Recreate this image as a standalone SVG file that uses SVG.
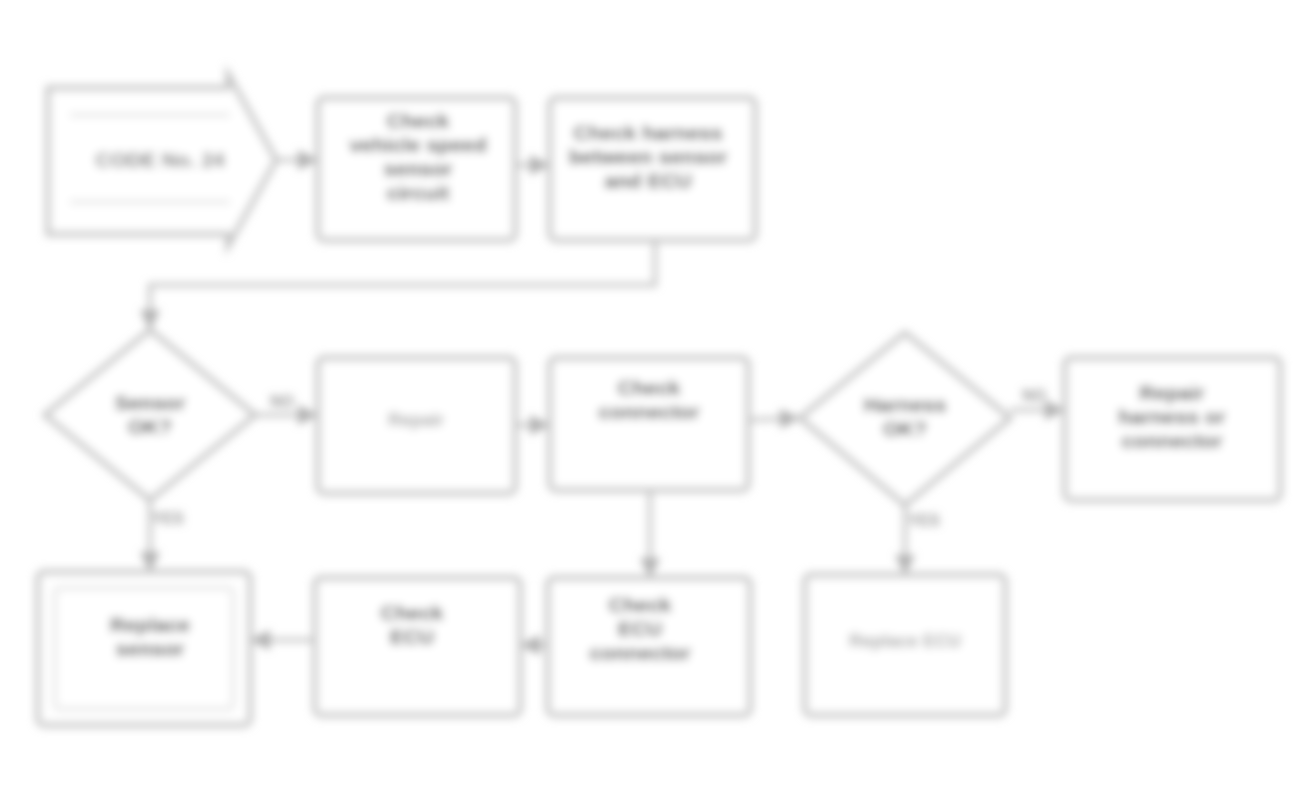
<svg xmlns="http://www.w3.org/2000/svg" width="1312" height="797" viewBox="0 0 1312 797">
<defs>
  <filter id="soft" x="-5%" y="-5%" width="110%" height="110%"><feGaussianBlur stdDeviation="4.5"/></filter>
  <marker id="arr" viewBox="0 0 10 10" refX="9" refY="5" markerWidth="5" markerHeight="5" orient="auto"><path d="M0,0 L10,5 L0,10 z" fill="#b0b0b0"/></marker>
</defs>
<style>
  .box{fill:#ffffff;stroke:#c0c0c0;stroke-width:5}
  .inner{fill:none;stroke:#dcdcdc;stroke-width:3}
  .t{font-family:"Liberation Sans",Arial,sans-serif;font-size:21px;font-weight:bold;fill:#262626;text-anchor:middle}
  .tl{font-family:"Liberation Sans",Arial,sans-serif;font-size:18px;font-weight:bold;fill:#a0a0a0;text-anchor:middle}
  .lab{font-family:"Liberation Sans",Arial,sans-serif;font-size:16px;font-weight:bold;fill:#9a9a9a;text-anchor:middle}
  .c{fill:none;stroke:#c0c0c0;stroke-width:4}
</style>
<rect width="1312" height="797" fill="#ffffff"/>
<g filter="url(#soft)">
<g id="connectors">
  <line class="c" x1="276" y1="160" x2="316" y2="160" marker-end="url(#arr)"/>
  <line class="c" x1="515" y1="165" x2="548" y2="165" marker-end="url(#arr)"/>
  <polyline class="c" points="655,240 655,285 150,285 150,328" marker-end="url(#arr)"/>
  <line class="c" x1="255" y1="415" x2="316" y2="415" marker-end="url(#arr)"/>
  <text class="lab" x="282" y="407">NO</text>
  <line class="c" x1="515" y1="425" x2="548" y2="425" marker-end="url(#arr)"/>
  <line class="c" x1="150" y1="500" x2="150" y2="570" marker-end="url(#arr)"/>
  <text class="lab" x="168" y="524">YES</text>
  <line class="c" x1="650" y1="490" x2="650" y2="576" marker-end="url(#arr)"/>
  <line class="c" x1="748" y1="420" x2="798" y2="418" marker-end="url(#arr)"/>
  <line class="c" x1="548" y1="645" x2="522" y2="645" marker-end="url(#arr)"/>
  <line class="c" x1="315" y1="640" x2="252" y2="640" marker-end="url(#arr)"/>
  <line class="c" x1="1010" y1="410" x2="1063" y2="410" marker-end="url(#arr)"/>
  <text class="lab" x="1034" y="401">NO</text>
  <line class="c" x1="905" y1="505" x2="905" y2="573" marker-end="url(#arr)"/>
  <text class="lab" x="924" y="526">YES</text>
</g>
<g id="start">
  <path class="box" d="M48,88 H228 V74 L276,160 L228,246 V234 H48 Z"/>
  <line class="inner" x1="70" y1="115" x2="230" y2="115"/>
  <line class="inner" x1="70" y1="202" x2="230" y2="202"/>
  <text class="t" x="160" y="167" style="fill:#707070">CODE No. 24</text>
</g>
<g id="check-sensor">
  <rect class="box" x="318" y="98" width="197" height="142" rx="6"/>
  <text class="t" x="418" y="128">Check</text>
  <text class="t" x="418" y="152">vehicle speed</text>
  <text class="t" x="418" y="176">sensor</text>
  <text class="t" x="418" y="200">circuit</text>
</g>
<g id="check-harness">
  <rect class="box" x="550" y="98" width="205" height="142" rx="6"/>
  <text class="t" x="648" y="140">Check harness</text>
  <text class="t" x="648" y="164">between sensor</text>
  <text class="t" x="648" y="188">and ECU</text>
</g>
<g id="decision-1">
  <polygon class="box" points="150,330 255,415 150,500 45,415"/>
  <text class="t" x="150" y="410">Sensor</text>
  <text class="t" x="150" y="434">OK?</text>
</g>
<g id="repair-1">
  <rect class="box" x="318" y="358" width="197" height="135" rx="6"/>
  <text class="tl" x="416" y="426">Repair</text>
</g>
<g id="check-connector">
  <rect class="box" x="550" y="358" width="198" height="132" rx="6"/>
  <text class="t" x="649" y="395">Check</text>
  <text class="t" x="649" y="419">connector</text>
</g>
<g id="decision-2">
  <polygon class="box" points="905,333 1010,418 905,505 800,418"/>
  <text class="t" x="905" y="412">Harness</text>
  <text class="t" x="905" y="436">OK?</text>
</g>
<g id="repair-harness">
  <rect class="box" x="1065" y="358" width="215" height="142" rx="6"/>
  <text class="t" x="1172" y="400">Repair</text>
  <text class="t" x="1172" y="424">harness or</text>
  <text class="t" x="1172" y="448">connector</text>
</g>
<g id="replace-sensor">
  <rect class="box" x="38" y="572" width="212" height="153" rx="6"/>
  <rect class="inner" x="55" y="588" width="178" height="121" rx="4"/>
  <text class="t" x="150" y="632">Replace</text>
  <text class="t" x="150" y="656">sensor</text>
</g>
<g id="check-ecu">
  <rect class="box" x="315" y="578" width="205" height="137" rx="6"/>
  <text class="t" x="412" y="620">Check</text>
  <text class="t" x="412" y="644">ECU</text>
</g>
<g id="check-ecu-connector">
  <rect class="box" x="548" y="578" width="202" height="137" rx="6"/>
  <text class="t" x="640" y="612">Check</text>
  <text class="t" x="640" y="636">ECU</text>
  <text class="t" x="640" y="660">connector</text>
</g>
<g id="replace-ecu">
  <rect class="box" x="805" y="575" width="200" height="140" rx="6"/>
  <text class="tl" x="905" y="647">Replace ECU</text>
</g>
</g>
</svg>
